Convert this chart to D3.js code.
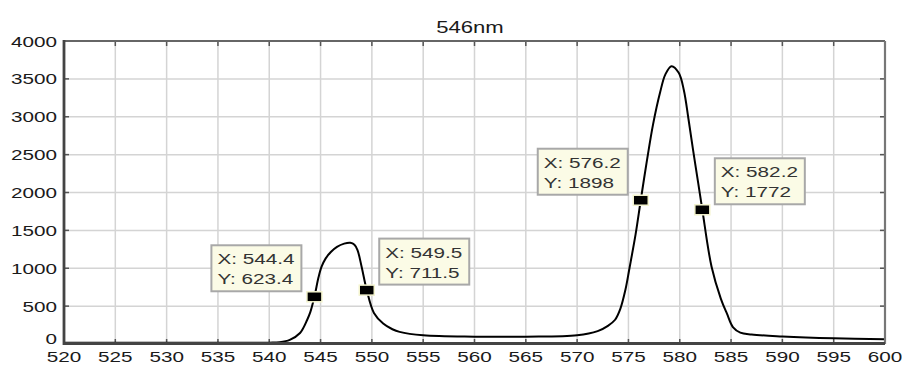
<!DOCTYPE html>
<html>
<head>
<meta charset="utf-8">
<script src="https://cdn.jsdelivr.net/npm/d3@7/dist/d3.min.js"></script>
<style>
  html, body { margin: 0; padding: 0; background: #fff; }
  svg { display: block; }
  text { font-family: "Liberation Sans", Arial, sans-serif; fill: #1a1a1a; }
</style>
</head>
<body>
<svg id="chart" width="902" height="365"></svg>
<script>
// ---- data ----
const title = "546nm";
const wavelength = [520, 525, 530, 535, 540, 541, 542, 543, 543.7, 544.0, 544.4, 544.8, 545.1, 545.5, 546.0, 546.6, 547.3, 547.9, 548.3, 548.6, 549.0, 549.5, 550.2, 551.1, 552.0, 552.7, 555, 560, 565, 570, 572, 573, 573.7, 574.2, 574.7, 575.1, 575.7, 576.2, 576.8, 577.4, 578.1, 578.6, 579.2, 579.9, 580.4, 580.85, 581.3, 581.8, 582.2, 583.1, 584.0, 584.6, 585.2, 585.9, 587, 590, 595, 600];
const intensity  = [15, 15, 15, 15, 18, 24, 55, 145, 320, 420, 623.4, 880, 1020, 1130, 1215, 1283, 1325, 1336, 1310, 1240, 1020, 711.5, 410, 270, 195, 160, 115, 97, 97, 115, 170, 240, 320, 460, 712, 1000, 1450, 1898, 2420, 2900, 3330, 3560, 3668, 3580, 3351, 2970, 2559, 2124, 1772, 1020, 600, 400, 220, 150, 125, 100, 75, 62];
const xTicks = [520, 525, 530, 535, 540, 545, 550, 555, 560, 565, 570, 575, 580, 585, 590, 595, 600];
const yTicks = [0, 500, 1000, 1500, 2000, 2500, 3000, 3500, 4000];
const tipX = [544.4, 549.5, 576.2, 582.2];
const tipY = [623.4, 711.5, 1898, 1772];
const tipSide = ["left", "right", "left", "right"];

(function () {
// ---- layout ----
const pLeft = 64, pRight = 885, pTop = 41, pBottom = 344;
const SX = 1.38; // horizontal text stretch as in reference
const svg = d3.select("#chart");

const x = d3.scaleLinear().domain([520, 600]).range([pLeft, pRight]);
const y = d3.scaleLinear().domain([0, 4000]).range([pBottom, pTop]);

// grid
svg.append("g").selectAll("line").data(xTicks.slice(1, -1)).join("line")
  .attr("x1", d => x(d)).attr("x2", d => x(d)).attr("y1", pTop).attr("y2", pBottom)
  .attr("stroke", "#d4d4d4").attr("stroke-width", 1.5);
svg.append("g").selectAll("line").data(yTicks.slice(1, -1)).join("line")
  .attr("y1", d => y(d)).attr("y2", d => y(d)).attr("x1", pLeft).attr("x2", pRight)
  .attr("stroke", "#d4d4d4").attr("stroke-width", 1.5);

// inward ticks on all sides
const tl = 5;
const tg = svg.append("g").attr("stroke", "#555").attr("stroke-width", 1.5);
xTicks.forEach(d => {
  tg.append("line").attr("x1", x(d)).attr("x2", x(d)).attr("y1", pBottom).attr("y2", pBottom - tl);
  tg.append("line").attr("x1", x(d)).attr("x2", x(d)).attr("y1", pTop).attr("y2", pTop + tl);
});
yTicks.forEach(d => {
  tg.append("line").attr("y1", y(d)).attr("y2", y(d)).attr("x1", pLeft).attr("x2", pLeft + tl);
  tg.append("line").attr("y1", y(d)).attr("y2", y(d)).attr("x1", pRight).attr("x2", pRight - tl);
});

// curve
const line = d3.line().x((d, i) => x(wavelength[i])).y(d => y(d)).curve(d3.curveCatmullRom.alpha(0.5));
svg.append("path").datum(intensity).attr("d", line)
  .attr("fill", "none").attr("stroke", "#000").attr("stroke-width", 2);

// frame
svg.append("line").attr("x1", pLeft).attr("x2", pRight).attr("y1", pTop).attr("y2", pTop)
  .attr("stroke", "#666").attr("stroke-width", 2.2);
svg.append("line").attr("x1", pRight).attr("x2", pRight).attr("y1", pTop).attr("y2", pBottom)
  .attr("stroke", "#777").attr("stroke-width", 2.2);
svg.append("line").attr("x1", pLeft).attr("x2", pRight).attr("y1", pBottom - 0.5).attr("y2", pBottom - 0.5)
  .attr("stroke", "#444").attr("stroke-width", 2.8);
svg.append("line").attr("x1", pLeft).attr("x2", pLeft).attr("y1", pTop - 1).attr("y2", pBottom + 0.9)
  .attr("stroke", "#444").attr("stroke-width", 2.8);

// text helper (stretched horizontally)
function stext(g, tx, ty, str, anchor, size) {
  return g.append("text")
    .attr("transform", `translate(${tx},${ty}) scale(${SX},1)`)
    .attr("text-anchor", anchor).attr("font-size", size).text(str);
}

// tick labels
const lg = svg.append("g");
xTicks.forEach(d => stext(lg, x(d), 362, String(d), "middle", 15));
yTicks.forEach(d => stext(lg, 57, d === 0 ? y(d) - 0.5 : y(d) + 5.5, String(d), "end", 15));

// title
stext(svg, 470, 33, title, "middle", 16);

// data tips
const fmt = d3.format(".4~g");
const bw = 90, bh = 46;
tipX.forEach((tx, i) => {
  const cx = x(tx), cy = y(tipY[i]);
  const bx = tipSide[i] === "left" ? cx - 103 : cx + 12.5;
  const by = cy - 51.5;
  const g = svg.append("g");
  g.append("rect").attr("x", bx).attr("y", by).attr("width", bw).attr("height", bh)
    .attr("fill", "#fbfbe6").attr("stroke", "#a8a8a8").attr("stroke-width", 2);
  stext(g, bx + 6, by + 19, "X: " + fmt(tx), "start", 15).style("fill", "#333");
  stext(g, bx + 6, by + 39, "Y: " + fmt(tipY[i]), "start", 15).style("fill", "#333");
  g.append("rect").attr("x", cx - 7.5).attr("y", cy - 5).attr("width", 15).attr("height", 10)
    .attr("fill", "#000").attr("stroke", "#f4f4cf").attr("stroke-width", 1.5);
});
})();
</script>
</body>
</html>
